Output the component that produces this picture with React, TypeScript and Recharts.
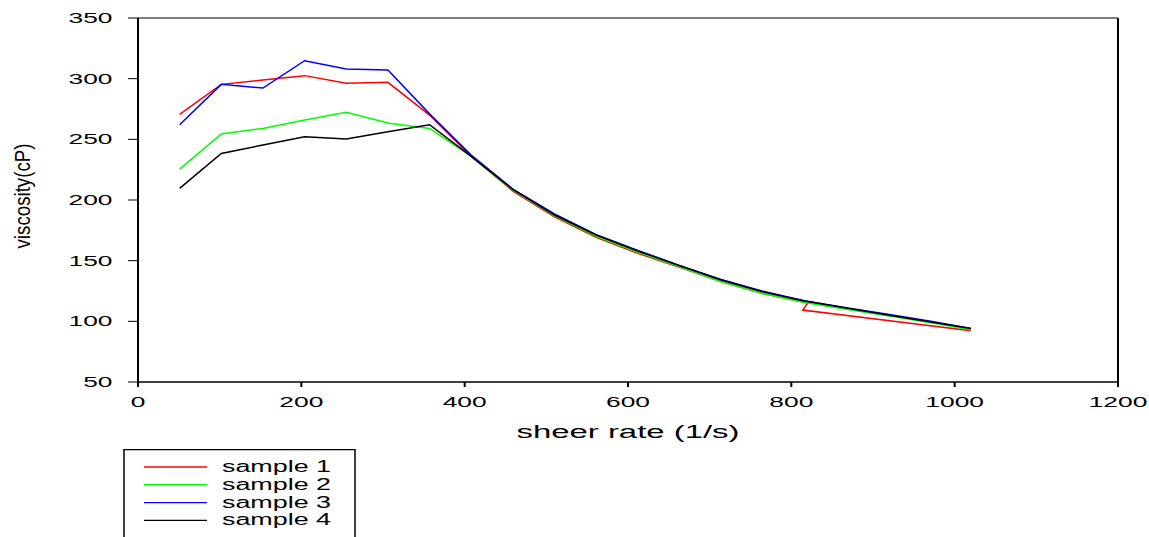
import { LineChart, Line, XAxis, YAxis, ReferenceArea, ReferenceLine } from "recharts";

// shear rates (1/s) shared by samples 2-4
const shearRates = [51, 102, 153, 204, 255, 306, 357, 408, 459, 510, 561, 612, 663, 714, 765, 816, 867, 918, 969, 1020];
// sample 1 has a kink near 815 and skips the last points
const sample1Rates = [51, 102, 153, 204, 255, 306, 357, 408, 459, 510, 561, 612, 663, 714, 765, 820, 814, 1020];

const sample1 = [270.6, 295.3, 298.9, 302.5, 296.2, 297, 270, 236, 207.4, 186.2, 169.3, 156, 144.5, 132.7, 123, 115, 109.3, 92.3];
const sample2 = [225.5, 254.4, 259, 266, 272.3, 263.5, 259, 236, 208.2, 187, 170, 157, 145, 132.5, 123, 115.5, 110, 104.5, 99, 93];
const sample3 = [262, 295.3, 292.3, 314.8, 308, 307.1, 271, 237, 209, 188.5, 171.5, 158.5, 146, 134.5, 124.8, 117, 111.3, 105.8, 100.2, 94.2];
const sample4 = [209.6, 238.4, 245.3, 252.2, 250.3, 256.3, 262, 236, 208.8, 187.6, 171.2, 158, 145.9, 134, 124.4, 116.7, 111, 105.3, 99.7, 94];

const xTicks = [0, 200, 400, 600, 800, 1000, 1200];
const yTicks = [50, 100, 150, 200, 250, 300, 350];

const toRows = (xs: number[], ys: number[]) => xs.map((x, i) => ({ x, y: ys[i] }));

const series = [
  { name: "sample 1", color: "#ff0000", data: toRows(sample1Rates, sample1) },
  { name: "sample 2", color: "#00ff00", data: toRows(shearRates, sample2) },
  { name: "sample 3", color: "#0000ff", data: toRows(shearRates, sample3) },
  { name: "sample 4", color: "#000000", data: toRows(shearRates, sample4) },
];

const FONT = "'Liberation Sans', Arial, sans-serif";

function YTick(props: any) {
  const { x, y, payload } = props;
  return (
    <g transform={`translate(${x - 13.5}, ${y + 5}) scale(1.88, 1)`}>
      <text textAnchor="end" fontSize={14} fontFamily={FONT} fill="#000">
        {payload.value}
      </text>
    </g>
  );
}

function XTick(props: any) {
  const { x, y, payload } = props;
  return (
    <g transform={`translate(${x}, ${y + 18}) scale(1.76, 1)`}>
      <text textAnchor="middle" fontSize={15} fontFamily={FONT} fill="#000">
        {payload.value}
      </text>
    </g>
  );
}

const xTitle = () => (
  <text
    x={628}
    y={438}
    textAnchor="middle"
    fontSize={18}
    fontFamily={FONT}
    fill="#000"
    textLength={223}
    lengthAdjust="spacingAndGlyphs"
  >
    sheer rate (1/s)
  </text>
);

const yTitle = () => (
  <g transform="translate(30, 196) rotate(-90) scale(1, 1.6)">
    <text
      x={0}
      y={0}
      textAnchor="middle"
      fontSize={14}
      fontFamily={FONT}
      fill="#000"
      textLength={105}
      lengthAdjust="spacingAndGlyphs"
    >
      viscosity(cP)
    </text>
  </g>
);

function LegendBox() {
  return (
    <svg
      width={233}
      height={90}
      style={{ position: "absolute", left: 123, top: 449 }}
    >
      <rect x={1} y={0.5} width={231} height={120} fill="none" stroke="#000" strokeWidth={1.5} />
      {series.map((s, i) => (
        <g key={s.name}>
          <line x1={21} x2={84} y1={18 + i * 17.8} y2={18 + i * 17.8} stroke={s.color} strokeWidth={1.4} />
          <text
            x={99}
            y={23 + i * 17.8}
            fontSize={16}
            fontFamily={FONT}
            fill="#000"
            textLength={109}
            lengthAdjust="spacingAndGlyphs"
          >
            {s.name}
          </text>
        </g>
      ))}
    </svg>
  );
}

export default function App() {
  return (
    <div style={{ position: "relative", width: 1149, height: 537, background: "#fff" }}>
      <style>{`body{margin:0;overflow:hidden;background:#fff}`}</style>
      <LineChart width={1149} height={537} margin={{ top: 18, right: 31, bottom: 0, left: 0 }}>
        <XAxis
          type="number"
          dataKey="x"
          domain={[0, 1200]}
          ticks={xTicks}
          allowDataOverflow
          height={155}
          tickSize={5}
          tickLine={{ stroke: "#000", strokeWidth: 2 }}
          axisLine={{ stroke: "#000", strokeWidth: 1 }}
          tick={<XTick />}
          label={{ content: xTitle }}
        />
        <YAxis
          type="number"
          dataKey="y"
          domain={[50, 350]}
          ticks={yTicks}
          allowDataOverflow
          width={138}
          tickSize={10}
          tickLine={{ stroke: "#000", strokeWidth: 1 }}
          axisLine={{ stroke: "#000", strokeWidth: 2 }}
          tick={<YTick />}
          label={{ content: yTitle }}
        />
        <ReferenceArea x1={0} x2={1200} y1={50} y2={350} fill="none" stroke="#000" strokeWidth={1} />
        <ReferenceLine x={1200} stroke="#000" strokeWidth={2} />
        {series.map((s) => (
          <Line
            key={s.name}
            data={s.data}
            dataKey="y"
            name={s.name}
            type="linear"
            stroke={s.color}
            strokeWidth={1.5}
            dot={false}
            activeDot={false}
            isAnimationActive={false}
          />
        ))}
      </LineChart>
      <LegendBox />
    </div>
  );
}
